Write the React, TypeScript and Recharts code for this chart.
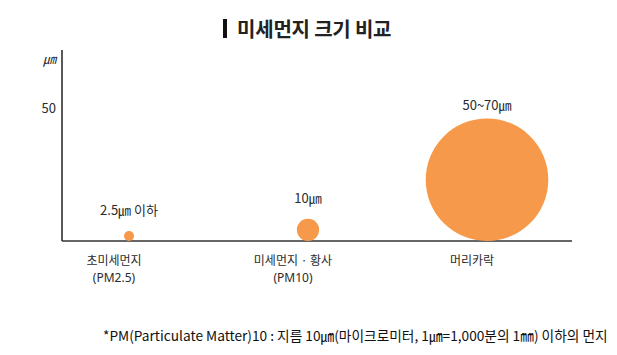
import { Scatter, ScatterChart, XAxis, YAxis } from 'recharts';

// 카테고리 / 값 라벨 / 그림상 지름(축 단위)
const CATEGORIES = ['초미세먼지\n(PM2.5)', '미세먼지 · 황사\n(PM10)', '머리카락'];
const VALUE_LABELS = ['2.5㎛ 이하', '10㎛', '50~70㎛'];
const DIAMETERS = [3.8, 8.4, 46.2];
const Y_TICKS = [50];
const Y_MAX = 72;

const WIDTH = 617;
const HEIGHT = 355;
const MARGIN = { top: 50, right: 45, bottom: 54, left: 22 };
const X_AXIS_HEIGHT = 60;
const BASELINE = HEIGHT - MARGIN.bottom - X_AXIS_HEIGHT;

const FONT = "'Noto Sans CJK KR', 'Noto Sans', sans-serif";
const LATIN_FONT = "'Noto Sans', sans-serif";
const ORANGE = '#F7994A';
const TEXT = '#2b2b2b';

const data = CATEGORIES.map((name, i) => ({
  name,
  top: DIAMETERS[i],
  label: VALUE_LABELS[i],
}));

interface BubbleProps {
  cx?: number;
  cy?: number;
  payload?: { label: string };
}

/** 점 좌표(cy)는 원의 윗변. 축 기준선까지 거리로 반지름을 구한다. */
function Bubble({ cx = 0, cy = 0, payload }: BubbleProps) {
  const r = (BASELINE - cy) / 2;
  // 큰 원은 라벨이 조금 더 붙어 있다
  const gap = r > 30 ? 14 : 21;
  return (
    <g>
      <circle cx={cx} cy={cy + r} r={r} fill={ORANGE} />
      <text
        x={cx}
        y={cy - gap}
        textAnchor="middle"
        dominantBaseline="central"
        fontSize={13}
        fill={TEXT}
        fontFamily={FONT}
      >
        {payload?.label}
      </text>
    </g>
  );
}

function CategoryTick({ x = 0, y = 0, payload }: { x?: number; y?: number; payload?: { value: string } }) {
  const lines = String(payload?.value ?? '').split('\n');
  return (
    <g>
      {lines.map((line, i) => (
        <text
          key={i}
          x={x - 15}
          y={y + 16 + i * 17}
          textAnchor="middle"
          fontSize={12}
          fill={TEXT}
          fontFamily={i === 0 ? FONT : LATIN_FONT}
        >
          {line}
        </text>
      ))}
    </g>
  );
}

export default function App() {
  return (
    <div
      style={{
        position: 'absolute',
        left: 0,
        top: 0,
        width: WIDTH,
        height: HEIGHT,
        background: '#fff',
        fontFamily: FONT,
      }}
    >
      <div
        style={{
          position: 'absolute',
          left: 223,
          top: 14,
          display: 'flex',
          alignItems: 'center',
          color: '#222',
        }}
      >
        <div style={{ width: 4, height: 19, background: '#111', marginRight: 10 }} />
        <div style={{ fontSize: 20, fontWeight: 700, letterSpacing: -0.2 }}>미세먼지 크기 비교</div>
      </div>

      <ScatterChart width={WIDTH} height={HEIGHT} margin={MARGIN}>
        <XAxis
          dataKey="name"
          type="category"
          scale="point"
          allowDuplicatedCategory={false}
          padding={{ left: 67, right: 85 }}
          height={X_AXIS_HEIGHT}
          axisLine={{ stroke: '#333', strokeWidth: 1.5 }}
          tickLine={false}
          interval={0}
          tick={<CategoryTick />}
        />
        <YAxis
          dataKey="top"
          type="number"
          domain={[0, Y_MAX]}
          ticks={Y_TICKS}
          width={40}
          tickMargin={0}
          axisLine={{ stroke: '#222', strokeWidth: 1.5 }}
          tickLine={false}
          tick={{ fontSize: 13, fill: TEXT, fontFamily: FONT }}
          label={(props: { viewBox?: { x: number; y: number; width: number } }) => {
            const vb = props.viewBox ?? { x: 0, y: 0, width: 0 };
            return (
              <text
                x={vb.x + vb.width - 6}
                y={vb.y + 8}
                textAnchor="end"
                dominantBaseline="central"
                fontSize={13}
                fontStyle="italic"
                fill={TEXT}
                fontFamily={FONT}
              >
                ㎛
              </text>
            );
          }}
        />
        <Scatter data={data} isAnimationActive={false} shape={<Bubble />} />
      </ScatterChart>

      <div
        style={{
          position: 'absolute',
          left: 103,
          top: 325,
          fontSize: 13.7,
          color: '#111',
          whiteSpace: 'nowrap',
        }}
      >
        *PM(Particulate Matter)10 : 지름 10㎛(마이크로미터, 1㎛=1,000분의 1㎜) 이하의 먼지
      </div>
    </div>
  );
}
